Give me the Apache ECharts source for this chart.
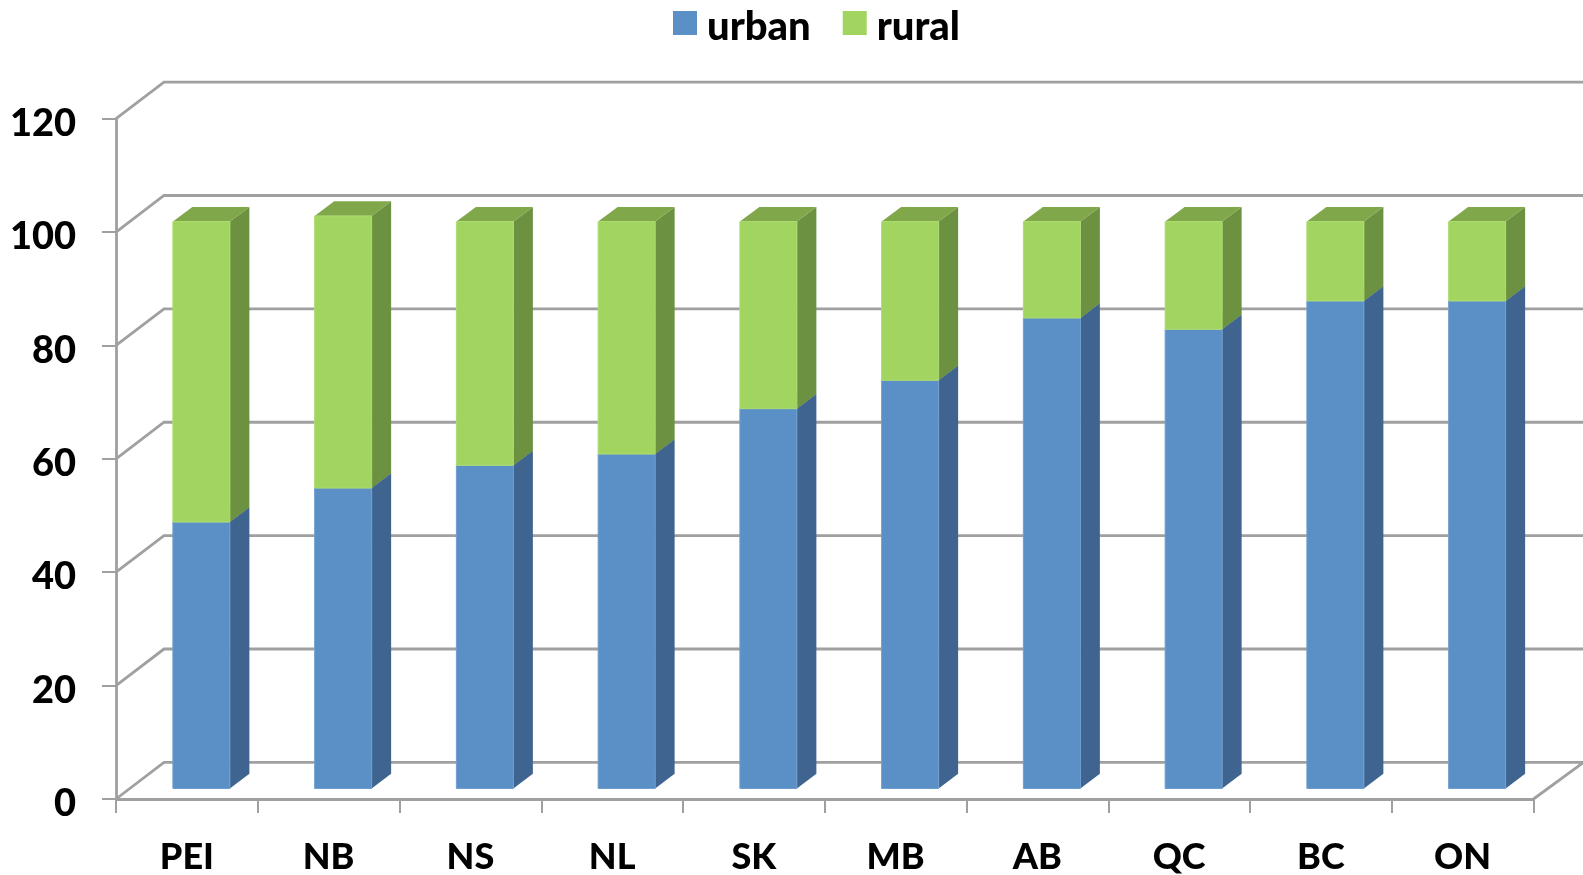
<!DOCTYPE html>
<html>
<head>
<meta charset="utf-8">
<title>urban / rural</title>
<style>
  html, body { margin: 0; padding: 0; background: #fff; overflow: hidden; }
  #chart { width: 1583px; height: 875px; }
</style>
<script src="https://cdn.jsdelivr.net/npm/echarts@6/dist/echarts.min.js"></script>
</head>
<body>
<div id="chart"></div>
<script>
const provinces = ['PEI', 'NB', 'NS', 'NL', 'SK', 'MB', 'AB', 'QC', 'BC', 'ON'];
const urban = [47, 53, 57, 59, 67, 72, 83, 81, 86, 86];
const rural = [53, 48, 43, 41, 33, 28, 17, 19, 14, 14];
const yTicks = [0, 20, 40, 60, 80, 100, 120];

const FONT = 'Lato, sans-serif';
const GRID_COLOR = '#a0a0a0';
const LINE_WIDTH = 2.8;
// fake 3d: how far the back wall and the bar depth are pushed
const WALL_DX = 48;
const WALL_DY = 36.6;
const BAR_WIDTH = 57;
const BAR_SHIFT_X = 14.5;
const BAR_LIFT = 10.5;
const BAR_DX = 19.5;
const BAR_DY = 14.7;

const wallStyle = { stroke: GRID_COLOR, lineWidth: LINE_WIDTH, fill: 'none' };

function renderWall(params, api) {
  const v = api.value(0);
  const sys = params.coordSys;
  const y = api.coord([0, v])[1];
  const left = sys.x;
  const children = [{
    type: 'polyline',
    shape: { points: [[left, y], [left + WALL_DX, y - WALL_DY], [1590, y - WALL_DY]] },
    style: wallStyle,
  }];
  if (v === 0) {
    const right = sys.x + sys.width;
    children.push({
      type: 'line',
      shape: { x1: right, y1: y, x2: right + WALL_DX + 2, y2: y - WALL_DY },
      style: wallStyle,
    });
  }
  return { type: 'group', children };
}

function barRenderer(front, edge, side, top) {
  return function (params, api) {
    const low = api.coord([api.value(0), api.value(1)]);
    const high = api.coord([api.value(0), api.value(2)]);
    const x0 = low[0] + BAR_SHIFT_X - BAR_WIDTH / 2;
    const x1 = x0 + BAR_WIDTH;
    const y0 = low[1] - BAR_LIFT;
    const y1 = high[1] - BAR_LIFT;
    return {
      type: 'group',
      children: [
        {
          type: 'polygon',
          shape: { points: [[x1, y0], [x1 + BAR_DX, y0 - BAR_DY], [x1 + BAR_DX, y1 - BAR_DY], [x1, y1]] },
          style: { fill: side },
        },
        {
          type: 'polygon',
          shape: { points: [[x0, y1], [x0 + BAR_DX, y1 - BAR_DY], [x1 + BAR_DX, y1 - BAR_DY], [x1, y1]] },
          style: { fill: top },
        },
        {
          type: 'rect',
          shape: { x: x0, y: y1, width: BAR_WIDTH, height: y0 - y1 },
          style: { fill: front, stroke: edge, lineWidth: 1 },
        },
      ],
    };
  };
}

const urbanRows = provinces.map((p, i) => [i, 0, urban[i]]);
const ruralRows = provinces.map((p, i) => [i, urban[i], urban[i] + rural[i]]);

const chart = echarts.init(document.getElementById('chart'), null, { renderer: 'canvas' });

chart.setOption({
  animation: false,
  backgroundColor: '#fff',
  grid: { left: 116, right: 49.5, top: 118.7, bottom: 76, containLabel: false },
  legend: {
    data: [
      { name: 'urban', icon: 'rect', itemStyle: { color: '#5b90c6' } },
      { name: 'rural', icon: 'rect', itemStyle: { color: '#a1d55f' } },
    ],
    left: 668,
    top: 2,
    itemWidth: 24,
    itemHeight: 24,
    itemGap: 32,
    formatter: (name) => `{t|${name}}`,
    textStyle: {
      rich: {
        t: { fontFamily: FONT, fontWeight: 900, fontSize: 40, color: '#000', padding: [8, 0, 0, 5] },
      },
    },
  },
  xAxis: {
    type: 'category',
    data: provinces,
    boundaryGap: true,
    axisLine: { lineStyle: { color: GRID_COLOR, width: LINE_WIDTH } },
    axisTick: { show: true, length: 14, lineStyle: { color: GRID_COLOR, width: 2 } },
    axisLabel: { fontFamily: FONT, fontWeight: 900, fontSize: 36, color: '#000', margin: 40 },
  },
  yAxis: {
    type: 'value',
    min: 0,
    max: 120,
    interval: 20,
    splitLine: { show: false },
    axisLine: { show: true, lineStyle: { color: GRID_COLOR, width: LINE_WIDTH } },
    axisTick: { show: true, length: 14, lineStyle: { color: GRID_COLOR, width: 2 } },
    axisLabel: { fontFamily: FONT, fontWeight: 900, fontSize: 38, color: '#000', margin: 40, verticalAlign: 'top', lineHeight: 10 },
  },
  series: [
    {
      type: 'custom',
      name: 'walls',
      data: yTicks.map((v) => [v]),
      encode: { x: -1, y: 0 },
      renderItem: renderWall,
      silent: true,
      z: 1,
    },
    {
      type: 'custom',
      name: 'urban',
      data: urbanRows,
      encode: { x: 0, y: [1, 2] },
      itemStyle: { color: '#5b90c6' },
      renderItem: barRenderer('#5b90c6', '#6f9ed0', '#3f648f', '#4a76a8'),
      z: 3,
    },
    {
      type: 'custom',
      name: 'rural',
      data: ruralRows,
      encode: { x: 0, y: [1, 2] },
      itemStyle: { color: '#a1d55f' },
      renderItem: barRenderer('#a1d55f', '#aedb74', '#6c9140', '#80a84b'),
      z: 4,
    },
  ],
});
</script>
</body>
</html>
